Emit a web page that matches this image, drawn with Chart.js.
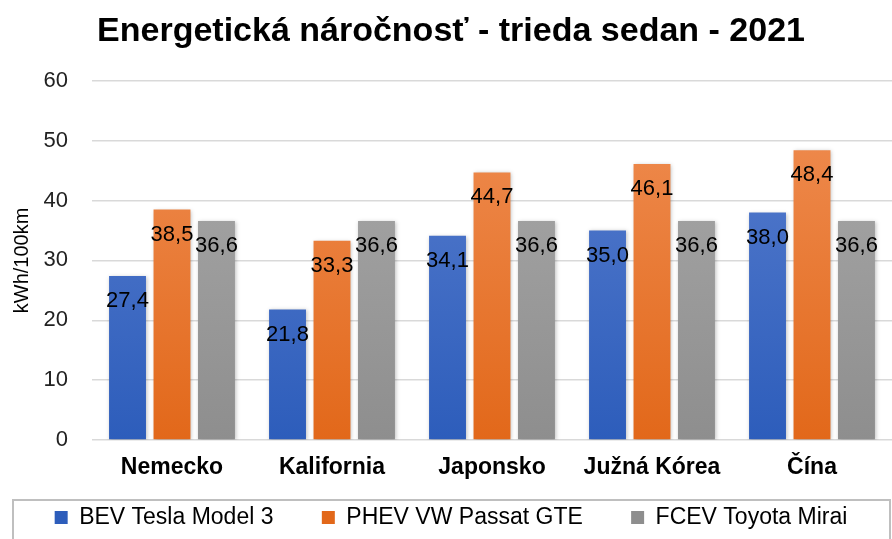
<!DOCTYPE html>
<html><head><meta charset="utf-8">
<script src="https://cdn.jsdelivr.net/npm/chart.js@4"></script>
<style>html,body{margin:0;padding:0;background:#fff}#wrap{width:892px;height:539px}</style>
</head><body><div id="wrap"><canvas id="c" width="892" height="539"></canvas></div>
<script>
const categories = ['Nemecko', 'Kalifornia', 'Japonsko', 'Južná Kórea', 'Čína'];
const bevValues = [27.4, 21.8, 34.1, 35.0, 38.0];
const phevValues = [38.5, 33.3, 44.7, 46.1, 48.4];
const fcevValues = [36.6, 36.6, 36.6, 36.6, 36.6];
const seriesNames = ['BEV Tesla Model 3', 'PHEV VW Passat GTE', 'FCEV Toyota Mirai'];
const yTicks = [0, 10, 20, 30, 40, 50, 60];

const FONT = '"Liberation Sans", Arial, sans-serif';

function grad(top, bottom) {
  return function(ctx) {
    const ca = ctx.chart.chartArea;
    if (!ca) return bottom;
    const g = ctx.chart.ctx.createLinearGradient(0, ca.top, 0, ca.bottom);
    g.addColorStop(0, top);
    g.addColorStop(1, bottom);
    return g;
  };
}

const labelPlugin = {
  id: 'barLabels',
  afterDatasetsDraw(chart) {
    const ctx = chart.ctx;
    ctx.save();
    ctx.font = '22px ' + FONT;
    ctx.fillStyle = '#000';
    ctx.textAlign = 'center';
    ctx.textBaseline = 'middle';
    chart.data.datasets.forEach((ds, i) => {
      chart.getDatasetMeta(i).data.forEach((bar, j) => {
        const v = ds.data[j];
        ctx.fillText(v.toFixed(1).replace('.', ','), bar.x, bar.y + 25);
      });
    });
    ctx.restore();
  }
};

const legendBox = {
  id: 'legendBox',
  afterDraw(chart) {
    const ctx = chart.ctx;
    ctx.save();
    ctx.strokeStyle = '#bfbfbf';
    ctx.lineWidth = 2;
    ctx.strokeRect(13, 500, 877, 45);
    ctx.restore();
  }
};

const shadowPlugin = {
  id: 'barShadow',
  beforeDatasetsDraw(chart) {
    chart.ctx.save();
    chart.ctx.shadowColor = 'rgba(0,0,0,0.25)';
    chart.ctx.shadowBlur = 4;
    chart.ctx.shadowOffsetX = 1;
    chart.ctx.shadowOffsetY = 1;
  },
  afterDatasetsDraw(chart) {
    chart.ctx.restore();
  }
};

new Chart(document.getElementById('c'), {
  type: 'bar',
  data: {
    labels: categories,
    datasets: [
      { label: seriesNames[0], data: bevValues, backgroundColor: grad('#5a7fcf', '#2d5dbb') },
      { label: seriesNames[1], data: phevValues, backgroundColor: grad('#f08f55', '#e2681a') },
      { label: seriesNames[2], data: fcevValues, backgroundColor: grad('#ababab', '#8e8e8e') }
    ]
  },
  plugins: [shadowPlugin, labelPlugin, legendBox],
  options: {
    responsive: false,
    animation: false,
    layout: { padding: { left: 10, right: 0, top: 0, bottom: 0 } },
    datasets: { bar: { categoryPercentage: 0.834, barPercentage: 0.83 } },
    plugins: {
      title: {
        display: true,
        text: 'Energetická náročnosť - trieda sedan - 2021',
        color: '#000',
        font: { family: FONT, size: 34, weight: 'bold' },
        padding: { top: 11, bottom: 29 }
      },
      legend: {
        position: 'bottom',
        labels: {
          color: '#000',
          font: { family: FONT, size: 23 },
          boxWidth: 13, boxHeight: 13, padding: 10,
          generateLabels(chart) {
            const items = Chart.defaults.plugins.legend.labels.generateLabels(chart);
            items.forEach((it, i) => { if (i < items.length - 1) it.text = it.text + '      '; });
            return items;
          }
        }
      },
      tooltip: { enabled: false }
    },
    scales: {
      x: {
        grid: { display: false, drawTicks: false },
        border: { display: false },
        ticks: { color: '#000', font: { family: FONT, size: 23, weight: 'bold' }, padding: 14 },
        afterFit(axis) { axis.height = 56; }
      },
      y: {
        min: 0, max: 60,
        afterBuildTicks(axis) { axis.ticks = yTicks.map(v => ({ value: v })); },
        grid: { color: '#d9d9d9', lineWidth: 1.5, drawTicks: false },
        border: { display: false },
        ticks: { color: '#222', font: { family: FONT, size: 22 }, padding: 24 },
        title: { display: true, text: 'kWh/100km', color: '#000', font: { family: FONT, size: 20 }, padding: 0 },
        afterFit(axis) { axis.width = 82; }
      }
    }
  }
});
</script></body></html>
